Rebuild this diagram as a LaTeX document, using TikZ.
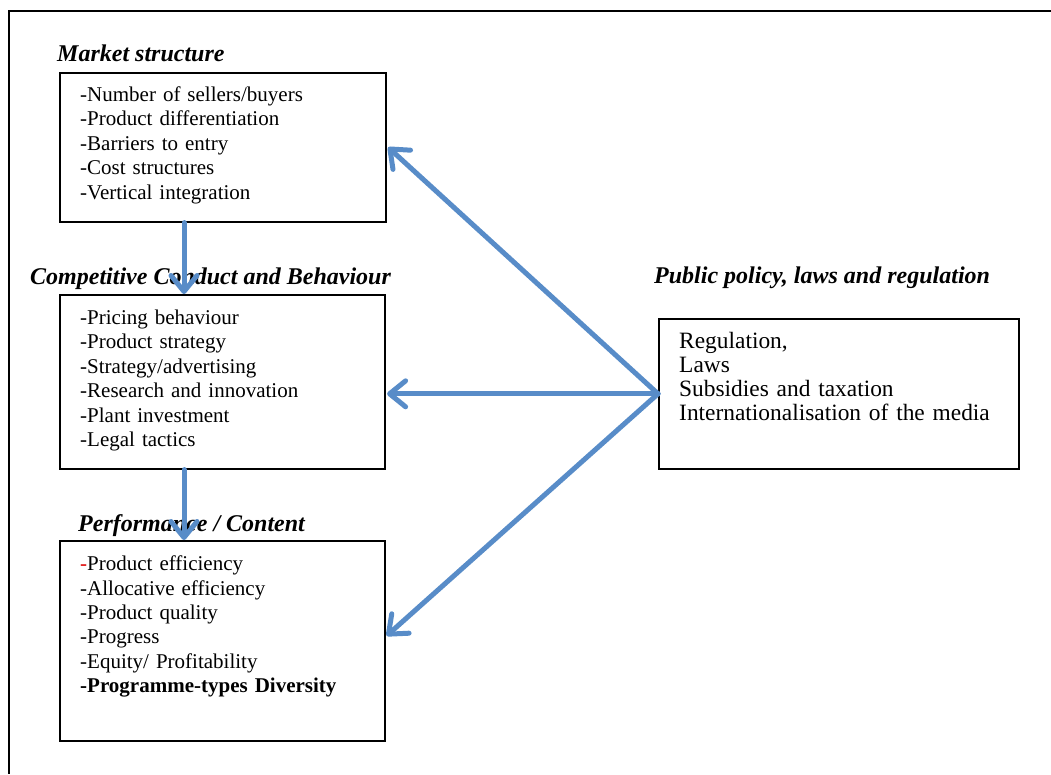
\documentclass[tikz,border=0pt]{standalone}
\usepackage{fontspec}
\setmainfont{Liberation Serif}
\usetikzlibrary{arrows.meta,calc}
\definecolor{flowblue}{RGB}{88,140,200}
\definecolor{dashred}{RGB}{220,0,0}

\tikzset{
  panel/.style={draw=black, line width=1.6pt, inner sep=0pt, anchor=north west},
  items/.style={anchor=base west, inner sep=0pt, align=left, text width=360pt,
    font=\fontsize{21}{24.4}\selectfont},
  bigitems/.style={items, font=\fontsize{23.4}{24.2}\selectfont},
  heading/.style={anchor=base west, inner sep=0pt,
    font=\fontsize{24}{26}\selectfont\bfseries\itshape},
  link/.style={draw=flowblue, line width=5pt, line cap=round,
    -{Straight Barb[length=16pt,width=26pt,round]}}
}

\begin{document}
\begin{tikzpicture}[x=1pt,y=-1pt]
\useasboundingbox (0,0) rectangle (1051,774);

% outer frame (top and left edges)
\draw[line width=2pt] (1051,11) -- (9,11) -- (9,774);

% headings
\node[heading] (hms)  at (57,61)  {Market structure};
\node[heading] (hccb) at (30,284) {Competitive Conduct and Behaviour};
\node[heading] (hpc)  at (78,531) {Performance / Content};
\node[heading] (hpp)  at (654,283) {Public policy, laws and regulation};

% boxes
\node[panel, minimum width=326pt, minimum height=149pt] (ms)  at (59,72)  {};
\node[panel, minimum width=325pt, minimum height=174pt] (ccb) at (59,294) {};
\node[panel, minimum width=325pt, minimum height=200pt] (pc)  at (59,540) {};
\node[panel, minimum width=360pt, minimum height=150pt] (pp)  at (658,318) {};

% box contents
\node[items] (tms) at (80,101.5) {-Number of sellers/buyers\\-Product differentiation\\-Barriers to entry\\-Cost structures\\-Vertical integration};
\node[items] (tccb) at (80,324.5) {-Pricing behaviour\\-Product strategy\\-Strategy/advertising\\-Research and innovation\\-Plant investment\\-Legal tactics};
\node[items] (tpc) at (80,570.7) {\textcolor{dashred}{-}Product efficiency\\-Allocative efficiency\\-Product quality\\-Progress\\-Equity/ Profitability\\\textbf{-Programme-types Diversity}};
\node[bigitems] (tpp) at (679,348.3) {Regulation,\\Laws\\Subsidies and taxation\\Internationalisation of the media};

% causal chain
\draw[link] ([xshift=125pt]ms.south west) -- ([xshift=125pt]ccb.north west);
\draw[link] ([xshift=125pt]ccb.south west) -- ([xshift=125pt]pc.north west);

% policy influences
\draw[link] (pp.west) -- ([xshift=1.5pt]ms.east);
\draw[link] (pp.west) -- ([xshift=1.5pt]pp.west -| ccb.east);
\draw[link] (pp.west) -- ($(pc.east)+(1,-5)$);
\end{tikzpicture}
\end{document}
